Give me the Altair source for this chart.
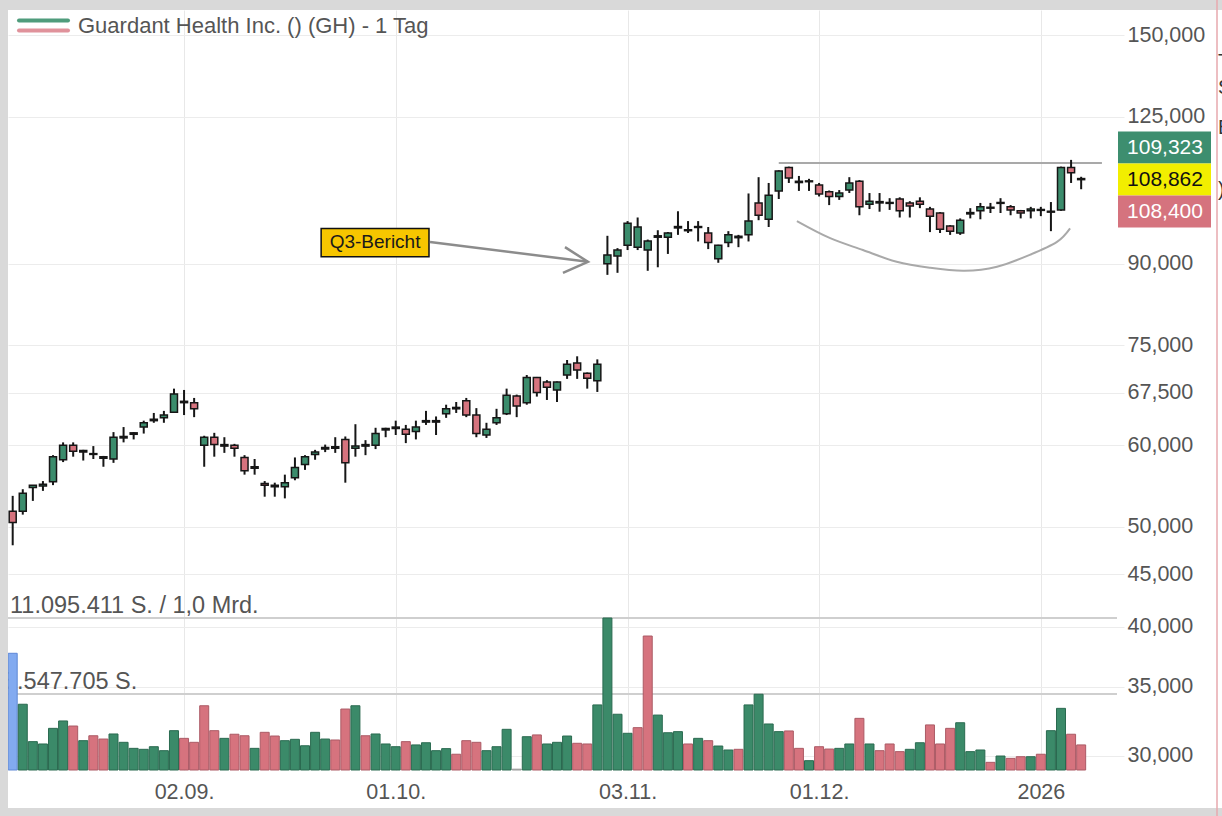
import altair as alt
import pandas as pd

# ---------------- data ----------------
opens = [51.8, 51.8, 54.6, 54.8, 55.3, 58.1, 60.0, 59.3, 58.8, 58.5,
         58.2, 61.0, 61.7, 62.5, 63.4, 63.8, 64.6, 66.0, 66.0, 60.0,
         61.1, 60.1, 60.0, 58.4, 57.0, 55.1, 54.7, 54.7, 55.8, 57.5,
         58.8, 59.5, 59.6, 60.8, 59.6, 59.9, 60.0, 62.3, 62.3, 62.2,
         61.9, 63.2, 63.4, 64.4, 65.1, 66.3, 64.2, 61.4, 63.1, 64.4,
         67.0, 66.0, 69.8, 69.1, 67.9, 70.2, 72.1, 70.5, 69.3, 90.0,
         91.6, 93.8, 93.4, 92.8, 95.5, 95.5, 97.5, 97.1, 97.6, 96.4,
         91.0, 94.4, 95.4, 96.0, 103.1, 99.4, 105.9, 111.6, 108.2, 108.1,
         107.3, 105.7, 104.6, 106.1, 108.2, 102.8, 103.1, 103.2, 104.0, 103.1,
         103.5, 101.7, 100.8, 97.9, 96.4, 100.6, 101.3, 101.9, 103.0, 102.2,
         101.3, 101.3, 101.4, 101.2, 101.5, 111.6, 108.6]
highs = [53.6, 54.4, 54.9, 55.4, 58.7, 60.4, 60.4, 59.4, 59.9, 58.6,
         61.8, 62.5, 61.8, 63.4, 64.5, 64.8, 68.1, 67.9, 66.7, 61.3,
         61.7, 61.1, 60.2, 58.7, 58.2, 55.4, 55.2, 56.2, 58.4, 58.7,
         59.4, 60.1, 61.1, 61.2, 62.9, 60.7, 62.4, 62.4, 63.4, 62.8,
         63.4, 64.8, 64.0, 65.7, 66.1, 66.7, 65.2, 63.1, 65.1, 68.1,
         67.2, 70.2, 69.9, 69.4, 69.2, 72.6, 73.2, 70.6, 72.7, 95.8,
         93.2, 99.0, 99.8, 95.0, 97.0, 96.6, 101.2, 99.0, 99.0, 97.7,
         93.9, 96.8, 96.0, 105.3, 109.2, 107.8, 110.9, 111.8, 109.5, 108.8,
         107.8, 106.0, 106.1, 109.2, 108.5, 105.4, 105.4, 104.2, 104.4, 103.5,
         104.4, 102.2, 101.0, 98.1, 99.6, 101.9, 103.1, 103.1, 104.2, 102.6,
         101.5, 102.2, 102.2, 103.3, 111.8, 113.5, 109.3]
lows = [48.0, 51.4, 53.0, 54.2, 54.9, 57.8, 58.5, 58.0, 58.2, 57.2,
        57.7, 60.4, 60.8, 61.6, 63.1, 63.1, 64.5, 64.2, 63.9, 57.2,
        58.5, 59.0, 58.5, 56.2, 56.2, 53.5, 53.5, 53.3, 55.5, 56.8,
        58.1, 59.1, 59.0, 55.2, 58.5, 58.7, 59.5, 61.1, 61.4, 60.3,
        60.8, 62.8, 61.4, 63.8, 64.5, 63.9, 61.1, 61.0, 62.8, 64.2,
        63.9, 65.7, 66.9, 66.4, 66.1, 69.6, 69.6, 68.1, 67.6, 87.8,
        88.2, 92.8, 92.8, 88.6, 89.3, 92.0, 96.0, 96.4, 94.6, 93.0,
        90.2, 93.4, 93.4, 94.6, 99.2, 97.7, 104.0, 107.8, 105.9, 105.9,
        104.6, 102.6, 103.8, 105.4, 100.3, 101.7, 101.1, 101.5, 99.8, 99.8,
        101.9, 96.6, 96.4, 96.0, 96.0, 99.6, 99.4, 100.8, 100.8, 100.3,
        99.6, 99.6, 100.1, 96.8, 101.3, 107.8, 106.3]
closes = [50.5, 53.9, 54.9, 55.0, 58.5, 60.0, 59.2, 59.1, 58.9, 58.3,
          61.1, 61.2, 61.5, 63.1, 63.6, 64.2, 67.3, 66.2, 65.1, 61.1,
          60.1, 59.9, 59.6, 56.7, 57.2, 54.9, 54.9, 55.2, 57.1, 58.5,
          59.1, 59.7, 59.8, 57.7, 59.9, 60.1, 61.6, 62.1, 62.5, 61.5,
          62.5, 63.4, 63.2, 65.1, 65.3, 64.2, 61.6, 62.2, 63.8, 67.1,
          65.5, 69.8, 67.5, 68.3, 69.1, 71.9, 71.0, 69.7, 71.9, 91.8,
          92.8, 98.5, 97.7, 94.7, 95.8, 96.4, 97.8, 96.9, 97.8, 94.4,
          93.8, 96.0, 95.7, 99.0, 100.3, 104.9, 110.7, 109.0, 107.9, 108.3,
          105.2, 104.6, 105.4, 107.8, 102.2, 103.5, 103.4, 103.0, 101.3, 102.4,
          102.8, 100.1, 97.2, 96.8, 99.2, 100.9, 102.2, 102.1, 103.2, 101.5,
          100.8, 101.7, 101.6, 101.0, 111.6, 110.3, 108.862]
# volume, millions of shares
volumes = [8.52, 4.80, 2.07, 1.90, 3.04, 3.58, 3.21, 2.14, 2.50, 2.26,
           2.63, 2.02, 1.58, 1.51, 1.70, 1.41, 2.87, 2.31, 2.02, 4.69,
           2.87, 2.31, 2.61, 2.50, 1.58, 2.75, 2.48, 2.14, 2.24, 1.77,
           2.75, 2.26, 2.19, 4.45, 4.69, 2.50, 2.63, 1.90, 1.70, 2.07,
           1.83, 1.99, 1.41, 1.56, 1.15, 2.14, 2.02, 1.41, 1.70, 2.97,
           0.06, 2.43, 2.56, 1.90, 2.02, 2.48, 1.95, 1.90, 4.75, 11.095411,
           4.07, 2.68, 3.09, 9.78, 4.01, 2.72, 2.80, 1.90, 2.31, 2.14,
           1.75, 1.46, 1.51, 4.75, 5.53, 3.36, 2.80, 2.85, 1.58, 0.68,
           1.70, 1.53, 1.58, 1.90, 3.77, 1.90, 1.41, 1.90, 1.34, 1.51,
           1.99, 3.29, 1.90, 3.04, 3.45, 1.34, 1.46, 0.56, 1.02, 0.85,
           0.97, 0.97, 1.15, 2.87, 4.50, 2.61, 1.83]
# volume bar colour: B = highlighted, G = up, P = down, N = no data
vol_dir = list("BGGGGGPGPPGGGGGGGPPPPGPPGPPGGGGGPPGPGGGPGGGGPPPGGGNGPGGGPPGGGGPPGGGPGPGGPGGGGPPGPPGGPGPPPGGPPPGGGPGPPGPGGPP")
tick_idx = [17, 38, 61, 80, 102]
tick_lab = ["02.09.", "01.10.", "03.11.", "01.12.", "2026"]
price_ticks = [30, 35, 40, 45, 50, 60, 67.5, 75, 90, 125, 150]
quote_vals = [109.323, 108.862, 108.400]
vol_max = 11.095411
vol_half = 5.547705
vol_texts = ["11.095.411 S. / 1,0 Mrd.", "5.547.705 S."]
resist = {"i0": 76.0, "i1": 108.06, "p": 112.7}
arc_idx = [77.8, 81.1, 84.35, 87.7, 91.0, 94.28, 97.65, 100.9, 103.6, 104.9]
arc_price = [99.0, 95.3, 92.8, 90.4, 89.2, 88.6, 89.4, 91.8, 94.5, 97.4]
note = {"x0": 30.6, "x1": 41.3, "p0": 91.4, "p1": 97.4, "xc": 35.95, "pc": 94.4, "t": "Q3-Bericht"}
arrow_seg = ["shaft", "shaft", "head", "head", "head"]
arrow_idx = [41.4, 57.07, 54.79, 57.07, 54.59]
arrow_price = [94.5, 90.4, 93.4, 90.4, 88.2]
title_text = "Guardant Health Inc. () (GH) - 1 Tag"

# ---------------- styling ----------------
FONT = "Liberation Sans"
GREEN = "#3b8c6c"
PINK = "#d6737e"
INK = "#161616"
LABEL = "#555555"
W, H = 1116, 760

n = len(closes)
candles = pd.DataFrame({
    "idx": list(range(n)), "open": opens, "high": highs, "low": lows, "close": closes,
})
candles["fillc"] = [GREEN if c >= o else PINK for o, c in zip(opens, closes)]
fill_map = {"B": "#82aaf0", "G": "#3b8a69", "P": "#d6737e", "N": "#bdbdbd"}
stroke_map = {"B": "#5f88d6", "G": "#2a6a50", "P": "#ab5a65", "N": "#9a9a9a"}
vols = pd.DataFrame({"idx": list(range(n)), "vol": volumes,
                     "vf": [fill_map[d] for d in vol_dir],
                     "vs": [stroke_map[d] for d in vol_dir]})

xlab_expr = " : ".join(f"datum.value == {i} ? '{l}'" for i, l in zip(tick_idx, tick_lab)) + " : ''"
X_SCALE = alt.Scale(domain=[-0.466, 110.25], nice=False, zero=False, padding=0)
X_AXIS = alt.Axis(values=tick_idx, labelExpr=xlab_expr, grid=True, gridColor="#e8e8e8",
                  ticks=False, domain=False, labelFontSize=21.5, labelColor=LABEL,
                  labelFont=FONT, labelPadding=11, title=None, labelOverlap=False,
                  labelFlush=False)
P_SCALE = alt.Scale(type="log", domain=[29.06, 158.62], nice=False, zero=False, padding=0)
P_AXIS = alt.Axis(orient="right", values=price_ticks,
                  labelExpr="replace(format(datum.value, '.3f'), '.', ',')",
                  grid=True, gridColor="#ececec", ticks=False, domain=False,
                  labelFontSize=21.5, labelColor=LABEL, labelFont=FONT, labelPadding=3,
                  title=None, labelOverlap=False, labelFlush=False)
V_SCALE = alt.Scale(domain=[0, vol_max / 0.2], nice=False, zero=True, padding=0)


def X(f):
    return alt.X(f, type="quantitative", scale=X_SCALE, axis=X_AXIS)


def P(f):
    return alt.Y(f, type="quantitative", scale=P_SCALE, axis=P_AXIS)


def V(f):
    return alt.Y(f, type="quantitative", scale=V_SCALE, axis=None)


one = pd.DataFrame({"a": [0]})

# ---------------- volume pane ----------------
vline_df = pd.DataFrame({"v": [vol_max, vol_half], "t": vol_texts})
vol_lines = alt.Chart(vline_df).mark_rule(color="#cfcfcf", strokeWidth=2).encode(
    x=alt.value(0), x2=alt.value(1109), y=V("v"))
vol_t1 = alt.Chart(vline_df.iloc[[0]]).mark_text(
    align="left", baseline="alphabetic", dy=-5, fontSize=23.5, font=FONT, color=LABEL
).encode(x=alt.value(2), y=V("v"), text="t:N")
vol_t2 = alt.Chart(vline_df.iloc[[1]]).mark_text(
    align="left", baseline="alphabetic", dy=-5, fontSize=23.5, font=FONT, color=LABEL
).encode(x=alt.value(-4), y=V("v"), text="t:N")
vol_bars = alt.Chart(vols).mark_bar(width=9, strokeWidth=1).encode(
    x=X("idx"), y=V("vol"),
    fill=alt.Fill("vf:N", scale=None), stroke=alt.Stroke("vs:N", scale=None))
vol_group = alt.layer(vol_lines, vol_t1, vol_t2, vol_bars)

# ---------------- price pane ----------------
res_line = alt.Chart(pd.DataFrame([resist])).mark_rule(color="#a9a9a9", strokeWidth=2).encode(
    x=X("i0"), x2="i1", y=P("p"))
arc = alt.Chart(pd.DataFrame({"i": arc_idx, "p": arc_price})).mark_line(
    interpolate="natural", color="#a9a9a9", strokeWidth=2).encode(x=X("i"), y=P("p"))
wicks = alt.Chart(candles).mark_rule(color=INK, strokeWidth=2).encode(
    x=X("idx"), y=P("low"), y2="high")
bodies = alt.Chart(candles).mark_bar(width=7, stroke=INK, strokeWidth=1.5).encode(
    x=X("idx"), y=P("open"), y2="close", fill=alt.Fill("fillc:N", scale=None))
note_df = pd.DataFrame([note])
note_box = alt.Chart(note_df).mark_rect(fill="#f7c600", stroke="#111111", strokeWidth=1.5).encode(
    x=X("x0"), x2="x1", y=P("p0"), y2="p1")
note_txt = alt.Chart(note_df).mark_text(fontSize=19, font=FONT, color="#1a1a1a").encode(
    x=X("xc"), y=P("pc"), text="t:N")
arrow_df = pd.DataFrame({"seg": arrow_seg, "i": arrow_idx, "p": arrow_price,
                         "k": list(range(len(arrow_idx)))})
arrow = alt.Chart(arrow_df).mark_line(color="#8c8c8c", strokeWidth=2.5).encode(
    x=X("i"), y=P("p"), detail="seg:N", order="k:Q")

last_df = pd.DataFrame({"last": [closes[-1]]})
quote_layers = []
q_fill = ["#3d8e6f", "#f2ee00", "#d5737e"]
q_text = ["white", "#111111", "white"]
q_off = [(-47, -15), (-15, 17), (17, 49)]
for v, fc, tc, (o1, o2) in zip(quote_vals, q_fill, q_text, q_off):
    lab = f"{v:.3f}".replace(".", ",")
    quote_layers.append(
        alt.Chart(last_df).mark_rect(fill=fc, yOffset=o1, y2Offset=o2).encode(
            x=alt.value(1110), x2=alt.value(1203), y=P("last"), y2="last"))
    quote_layers.append(
        alt.Chart(last_df).mark_text(text=lab, color=tc, fontSize=21, font=FONT,
                                     dy=(o1 + o2) / 2).encode(
            x=alt.value(1157), y=P("last")))

price_group = alt.layer(res_line, arc, wicks, bodies, note_box, note_txt, arrow, *quote_layers)

# ---------------- frame decorations ----------------
GRAY = "#d9d9d9"


def band(x1, x2, y1, y2, color):
    return alt.Chart(one).mark_rect(color=color).encode(
        x=alt.value(x1), x2=alt.value(x2), y=alt.value(y1), y2=alt.value(y2))


deco = [
    band(-8, 1214, -10, 0, GRAY),
    band(-8, 0, -10, 806, GRAY),
    band(-8, 1214, 798, 806, GRAY),
    alt.Chart(one).mark_rule(color="#e7a9ae", strokeWidth=1.5).encode(
        x=alt.value(1209), y=alt.value(-10), y2=alt.value(806)),
    alt.Chart(one).mark_rule(color="#4f9c7c", strokeWidth=4, strokeCap="round").encode(
        x=alt.value(11), x2=alt.value(60), y=alt.value(10.5)),
    alt.Chart(one).mark_rule(color="#e0929b", strokeWidth=4, strokeCap="round").encode(
        x=alt.value(11), x2=alt.value(60), y=alt.value(20.5)),
    alt.Chart(one).mark_text(text=title_text, align="left", baseline="alphabetic",
                             fontSize=22, font=FONT, color=LABEL).encode(
        x=alt.value(70), y=alt.value(23)),
]
for ch, yy in zip(["T", "S", "B", ")"], [52, 78, 118, 180]):
    deco.append(alt.Chart(one).mark_text(text=ch, align="left", baseline="middle",
                                         fontSize=20, font=FONT, color="#333333").encode(
        x=alt.value(1210), y=alt.value(yy)))

chart = alt.layer(vol_group, price_group, *deco).resolve_scale(y="independent").properties(
    width=W, height=H, background="white",
    autosize=alt.AutoSizeParams(type="none"),
    padding={"left": 8, "top": 10, "right": 98, "bottom": 46},
).configure_view(stroke=None)

chart.save("out.html", embed_options={"renderer": "svg", "actions": False})
